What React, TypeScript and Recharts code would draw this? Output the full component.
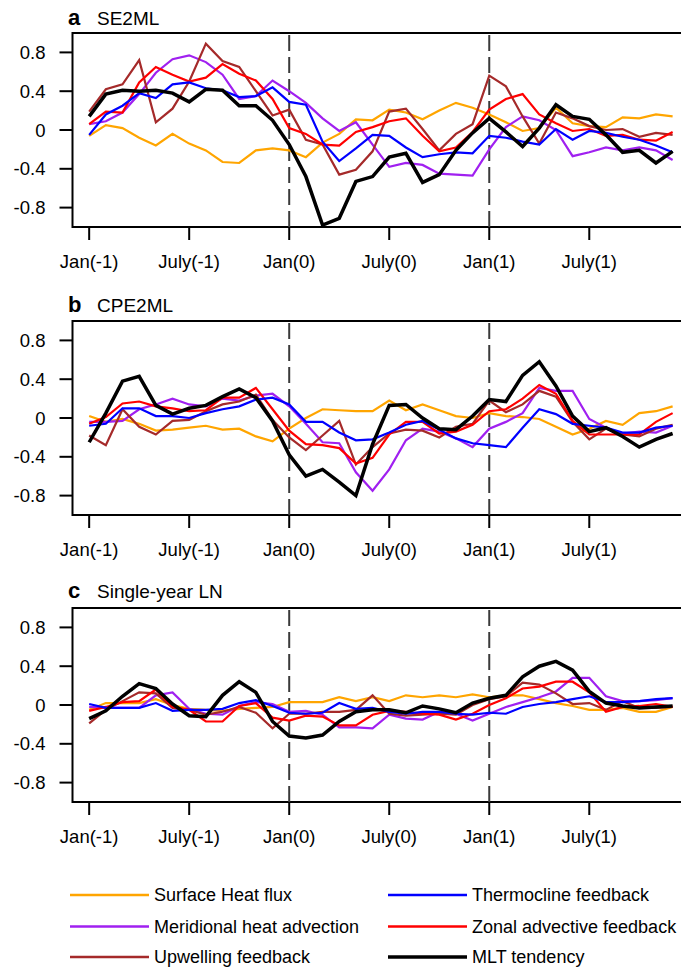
import React from "react";
import { LineChart, Line, XAxis, YAxis, ReferenceLine, ReferenceArea } from "recharts";

// ---------- categories / ticks ----------
const monthIndex = Array.from({ length: 36 }, (_, i) => i);
const xTickMonths = [0, 6, 12, 18, 24, 30];
const xTickLabels = ["Jan(-1)", "July(-1)", "Jan(0)", "July(0)", "Jan(1)", "July(1)"];
const yTicks = [-0.8, -0.4, 0, 0.4, 0.8];
const yTickLabels = ["-0.8", "-0.4", "0", "0.4", "0.8"];
const eventMonths = [12, 24];

// ---------- series ----------
const seriesKeys = ["shf", "thermo", "merid", "zonal", "upw", "mlt"];
const seriesNames = [
  "Surface Heat flux",
  "Thermocline feedback",
  "Meridional heat advection",
  "Zonal advective feedback",
  "Upwelling feedback",
  "MLT tendency",
];
const seriesColors = ["#FFA500", "#0000FF", "#A020F0", "#FF0000", "#A52A2A", "#000000"];

// ---------- panel a: SE2ML ----------
const aShf = [-0.06,0.05,0.02,-0.08,-0.16,-0.04,-0.14,-0.21,-0.33,-0.34,-0.21,-0.19,-0.21,-0.28,-0.13,-0.04,0.11,0.10,0.21,0.18,0.11,0.20,0.28,0.23,0.16,0.08,-0.01,0.02,0.23,0.07,0.04,0.03,0.13,0.12,0.16,0.14];
const aThermo = [-0.05,0.16,0.25,0.38,0.33,0.47,0.49,0.43,0.41,0.34,0.35,0.44,0.29,0.26,-0.12,-0.32,-0.19,-0.05,-0.06,-0.18,-0.28,-0.25,-0.23,-0.24,-0.06,-0.08,-0.12,-0.15,0.01,-0.10,-0.01,-0.03,-0.07,-0.10,-0.16,-0.23];
const aMerid = [0.06,0.09,0.18,0.37,0.59,0.73,0.77,0.70,0.57,0.32,0.35,0.51,0.40,0.28,0.12,-0.01,0.08,-0.15,-0.38,-0.34,-0.36,-0.45,-0.46,-0.47,-0.20,0.03,0.14,0.10,0.0,-0.27,-0.23,-0.18,-0.21,-0.18,-0.21,-0.31];
const aZonal = [0.06,0.19,0.18,0.49,0.65,0.57,0.50,0.54,0.68,0.58,0.51,0.32,0.02,-0.04,-0.15,-0.16,-0.02,0.03,0.09,0.12,-0.06,-0.22,-0.18,-0.02,0.21,0.32,0.37,0.16,0.07,-0.01,0.01,-0.06,-0.05,-0.10,-0.11,-0.02];
const aUpw = [0.19,0.42,0.47,0.72,0.08,0.22,0.50,0.89,0.71,0.65,0.40,0.15,0.21,-0.10,-0.15,-0.46,-0.41,-0.22,0.19,0.22,0.01,-0.21,-0.04,0.06,0.56,0.45,0.14,-0.14,0.18,0.12,0.04,0.0,0.01,-0.07,-0.03,-0.05];
const aMlt = [0.14,0.37,0.41,0.40,0.41,0.38,0.29,0.42,0.41,0.25,0.25,0.10,-0.15,-0.48,-0.98,-0.91,-0.53,-0.48,-0.28,-0.24,-0.54,-0.46,-0.21,-0.03,0.12,-0.02,-0.17,0.02,0.26,0.14,0.11,-0.05,-0.23,-0.21,-0.34,-0.22];

// ---------- panel b: CPE2ML ----------
const bShf = [0.02,-0.04,-0.01,-0.06,-0.13,-0.12,-0.10,-0.08,-0.12,-0.11,-0.19,-0.24,-0.11,0.0,0.09,0.08,0.07,0.07,0.18,0.08,0.14,0.08,0.02,0.0,0.05,0.02,0.01,-0.01,-0.09,-0.17,-0.11,-0.03,-0.07,0.05,0.07,0.12];
const bThermo = [-0.08,-0.06,0.10,0.10,0.02,0.02,0.0,0.05,0.09,0.12,0.19,0.21,0.14,-0.04,-0.04,-0.15,-0.23,-0.22,-0.15,-0.07,-0.03,-0.12,-0.21,-0.26,-0.28,-0.30,-0.10,0.09,0.04,-0.06,-0.08,-0.10,-0.15,-0.15,-0.10,-0.08];
const bMerid = [-0.04,-0.04,-0.03,0.09,0.14,0.20,0.14,0.12,0.20,0.18,0.23,0.25,0.12,-0.06,-0.25,-0.26,-0.56,-0.75,-0.53,-0.23,-0.11,-0.14,-0.21,-0.30,-0.11,-0.04,0.05,0.31,0.28,0.28,-0.01,-0.10,-0.16,-0.14,-0.15,-0.08];
const bZonal = [-0.06,0.01,0.15,0.17,0.12,0.10,0.07,0.08,0.21,0.21,0.31,0.09,-0.13,-0.27,-0.28,-0.31,-0.47,-0.41,-0.17,-0.04,-0.04,-0.16,-0.14,-0.07,0.07,0.09,0.20,0.34,0.25,-0.03,-0.17,-0.17,-0.17,-0.17,-0.04,0.05];
const bUpw = [-0.18,-0.28,0.09,-0.09,-0.17,-0.03,-0.02,0.07,0.14,0.17,0.24,-0.02,-0.20,-0.33,-0.18,-0.03,-0.48,-0.30,-0.16,-0.12,-0.13,-0.20,-0.09,-0.06,0.18,0.06,0.14,0.28,0.22,-0.04,-0.22,-0.11,-0.17,-0.19,-0.11,-0.07];
const bMlt = [-0.25,0.05,0.38,0.43,0.13,0.04,0.10,0.13,0.22,0.30,0.21,-0.03,-0.38,-0.60,-0.53,-0.66,-0.80,-0.27,0.13,0.14,0.0,-0.11,-0.12,0.02,0.19,0.17,0.44,0.58,0.33,0.02,-0.14,-0.10,-0.19,-0.30,-0.22,-0.16];

// ---------- panel c: Single-year LN ----------
const cShf = [-0.05,0.02,0.02,0.02,0.06,0.0,-0.04,-0.05,-0.06,-0.04,-0.03,-0.02,0.03,0.03,0.03,0.08,0.04,0.08,0.04,0.10,0.08,0.10,0.08,0.11,0.08,0.10,0.10,0.06,0.02,-0.01,-0.05,-0.05,-0.03,-0.07,-0.07,-0.02];
const cThermo = [0.01,-0.03,-0.03,-0.03,0.02,-0.06,-0.05,-0.05,-0.04,0.02,0.05,-0.01,-0.08,-0.09,-0.08,0.02,-0.04,-0.03,-0.07,-0.09,-0.07,-0.07,-0.09,-0.10,-0.08,-0.09,-0.02,0.01,0.03,0.06,0.09,0.03,0.03,0.04,0.06,0.07];
const cMerid = [-0.02,-0.03,-0.03,-0.03,0.10,0.13,-0.04,-0.09,-0.10,-0.01,0.03,0.01,-0.07,-0.06,-0.10,-0.23,-0.23,-0.24,-0.10,-0.14,-0.15,-0.07,-0.09,-0.16,-0.09,-0.02,0.03,0.08,0.14,0.28,0.28,0.09,0.04,0.04,0.05,0.07];
const cZonal = [-0.06,-0.02,0.03,0.04,0.16,-0.02,-0.05,-0.17,-0.17,-0.01,0.02,-0.13,-0.16,-0.11,-0.12,-0.21,-0.21,-0.10,-0.06,-0.07,-0.09,-0.10,-0.15,-0.09,0.0,0.07,0.17,0.19,0.24,0.24,0.13,-0.07,-0.02,-0.01,0.01,-0.02];
const cUpw = [-0.19,-0.05,0.04,0.13,0.12,-0.03,-0.05,-0.10,-0.07,-0.02,-0.08,-0.24,-0.09,-0.09,-0.07,-0.07,-0.05,0.10,-0.09,-0.11,-0.10,-0.09,-0.10,0.0,0.06,0.09,0.23,0.21,0.12,0.01,0.02,-0.05,0.04,-0.03,-0.03,-0.02];
const cMlt = [-0.14,-0.06,0.09,0.22,0.17,0.01,-0.11,-0.12,0.10,0.24,0.13,-0.17,-0.32,-0.34,-0.31,-0.17,-0.07,-0.05,-0.05,-0.08,-0.01,-0.04,-0.08,0.02,0.07,0.10,0.29,0.40,0.45,0.36,0.14,0.02,-0.01,-0.03,-0.02,-0.01];

const panelLetters = ["a", "b", "c"];
const panelTitles = ["SE2ML", "CPE2ML", "Single-year LN"];
const panelSeries = [
  [aShf, aThermo, aMerid, aZonal, aUpw, aMlt],
  [bShf, bThermo, bMerid, bZonal, bUpw, bMlt],
  [cShf, cThermo, cMerid, cZonal, cUpw, cMlt],
];

// ---------- layout (styles) ----------
const FONT = "'Liberation Sans', Arial, Helvetica, sans-serif";
const chartTops = [0, 287.6, 575.3];
const titleBaselines = [24.5, 312, 598];
const CHART_W = 700;
const CHART_H = 272;
const drawOrder = [0, 2, 4, 3, 1, 5];

function buildRows(series: number[][]) {
  return monthIndex.map((m) => {
    const row: Record<string, number> = { m };
    seriesKeys.forEach((k, si) => {
      row[k] = series[si][m];
    });
    return row;
  });
}

function Panel({ idx }: { idx: number }) {
  const data = buildRows(panelSeries[idx]);
  return (
    <div style={{ position: "absolute", left: 0, top: chartTops[idx], width: CHART_W, height: CHART_H }}>
      <LineChart
        width={CHART_W}
        height={CHART_H}
        data={data}
        margin={{ top: 33, right: 10.7, bottom: 0, left: 0 }}
      >
        <ReferenceArea
          x1={-1}
          x2={36}
          y1={-1}
          y2={1}
          fill="none"
          stroke="#000"
          strokeWidth={2}
          ifOverflow="visible"
        />
        <XAxis
          dataKey="m"
          type="number"
          domain={[-1, 36]}
          ticks={xTickMonths}
          tickFormatter={(v: number) => xTickLabels[xTickMonths.indexOf(v)]}
          axisLine={false}
          tickSize={13}
          tickMargin={15}
          tickLine={{ stroke: "#000", strokeWidth: 2 }}
          tick={{ fill: "#000", fontSize: 18.5, fontFamily: FONT }}
          height={45}
          interval={0}
          allowDataOverflow
        />
        <YAxis
          type="number"
          domain={[-1, 1]}
          ticks={yTicks}
          tickFormatter={(v: number) => yTickLabels[yTicks.indexOf(v)]}
          axisLine={false}
          tickSize={13}
          tickMargin={14}
          tickLine={{ stroke: "#000", strokeWidth: 2 }}
          tick={{ fill: "#000", fontSize: 18.5, fontFamily: FONT }}
          width={72.5}
          interval={0}
          allowDataOverflow
        />
        {eventMonths.map((m) => (
          <ReferenceLine key={m} x={m} stroke="#3a3a3a" strokeWidth={2} strokeDasharray="16 6" />
        ))}
        {drawOrder.map((si) => (
          <Line
            key={seriesKeys[si]}
            type="linear"
            dataKey={seriesKeys[si]}
            name={seriesNames[si]}
            stroke={seriesColors[si]}
            strokeWidth={si === 5 ? 3.5 : 2.2}
            dot={false}
            activeDot={false}
            isAnimationActive={false}
          />
        ))}
      </LineChart>
    </div>
  );
}

const legendRowsY = [895, 926.5, 957];
const legendColX = [70, 388];
const legendSwatchW = 79;
const legendLayout = [
  [0, 1],
  [2, 3],
  [4, 5],
];

export default function App() {
  return (
    <div
      style={{
        position: "absolute",
        left: 0,
        top: 0,
        width: 681,
        height: 969,
        overflow: "hidden",
        background: "#fff",
      }}
    >
      {panelLetters.map((_, i) => (
        <Panel key={i} idx={i} />
      ))}
      <svg
        width={681}
        height={969}
        style={{ position: "absolute", left: 0, top: 0, pointerEvents: "none" }}
      >
        {panelLetters.map((l, i) => (
          <g key={l}>
            <text x={68} y={titleBaselines[i]} fontFamily={FONT} fontSize={22} fontWeight="bold" fill="#000">
              {l}
            </text>
            <text x={97} y={titleBaselines[i]} fontFamily={FONT} fontSize={19} fill="#000">
              {panelTitles[i]}
            </text>
          </g>
        ))}
        {legendLayout.map((row, r) =>
          row.map((si, c) => (
            <g key={si}>
              <line
                x1={legendColX[c]}
                x2={legendColX[c] + legendSwatchW}
                y1={legendRowsY[r]}
                y2={legendRowsY[r]}
                stroke={seriesColors[si]}
                strokeWidth={si === 5 ? 3.5 : 2.5}
              />
              <text
                x={legendColX[c] + legendSwatchW + 5}
                y={legendRowsY[r] + 6.4}
                fontFamily={FONT}
                fontSize={18}
                fill="#000"
              >
                {seriesNames[si]}
              </text>
            </g>
          ))
        )}
      </svg>
    </div>
  );
}
